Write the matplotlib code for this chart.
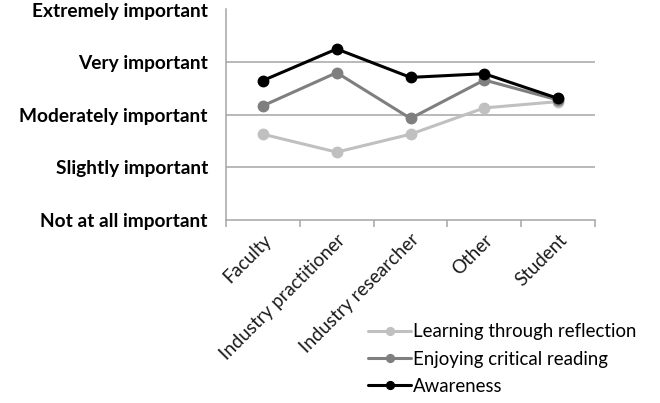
import matplotlib
matplotlib.use("Agg")
import matplotlib.pyplot as plt
import numpy as np

categories = ["Faculty", "Industry practitioner", "Industry researcher", "Other", "Student"]
levels = ["Not at all important", "Slightly important", "Moderately important",
          "Very important", "Extremely important"]

learning = [2.63, 2.29, 2.63, 3.13, 3.25]
enjoying = [3.17, 3.80, 2.93, 3.66, 3.28]
awareness = [3.65, 4.25, 3.71, 3.78, 3.31]

series = [
    ("Learning through reflection", learning, "#c0c0c0"),
    ("Enjoying critical reading", enjoying, "#7f7f7f"),
    ("Awareness", awareness, "#000000"),
]

fig = plt.figure(figsize=(6.6, 4.03), dpi=100)
ax = fig.add_axes([226 / 660, 1 - 220 / 403, 369 / 660, 210.5 / 403])

x = np.arange(len(categories))
handles = []
for name, vals, col in series:
    h, = ax.plot(x, vals, color=col, lw=2.2, marker="o", ms=7.5, label=name,
                 solid_capstyle="round")
    handles.append(h)

ax.set_xlim(-0.5, len(categories) - 0.5)
ax.set_ylim(1, 5)

grid_col = "#a6a6a6"
ax.set_yticks(np.arange(1, 6))
ax.set_yticklabels(levels, fontfamily="Lato", fontweight="bold", fontsize=13.8)
ax.tick_params(axis="y", length=0, pad=13)
for yv in range(2, 6):
    ax.axhline(yv, color=grid_col, lw=1.1, zorder=0)

ax.set_xticks(x)
ax.set_xticklabels(categories, rotation=45, ha="right", rotation_mode="anchor",
                   fontfamily="Lato", fontsize=13.5, color="#1a1a1a")
ax.tick_params(axis="x", length=0, pad=8)
ax.set_xticks(np.arange(-0.5, len(categories)), minor=True)
ax.tick_params(axis="x", which="minor", length=5, color=grid_col, width=1.1)

for s in ["top", "right"]:
    ax.spines[s].set_visible(False)
for s in ["left", "bottom"]:
    ax.spines[s].set_color(grid_col)
    ax.spines[s].set_linewidth(1.1)

fig.legend(handles=handles, loc="upper left", bbox_to_anchor=(361 / 660, 1 - 316 / 403),
           frameon=False, prop={"family": "Lato", "size": 13.4}, handlelength=2.3,
           handletextpad=0.1, labelspacing=0.55, borderaxespad=0, markerscale=0.75)

fig.savefig("out.png", dpi=100)
